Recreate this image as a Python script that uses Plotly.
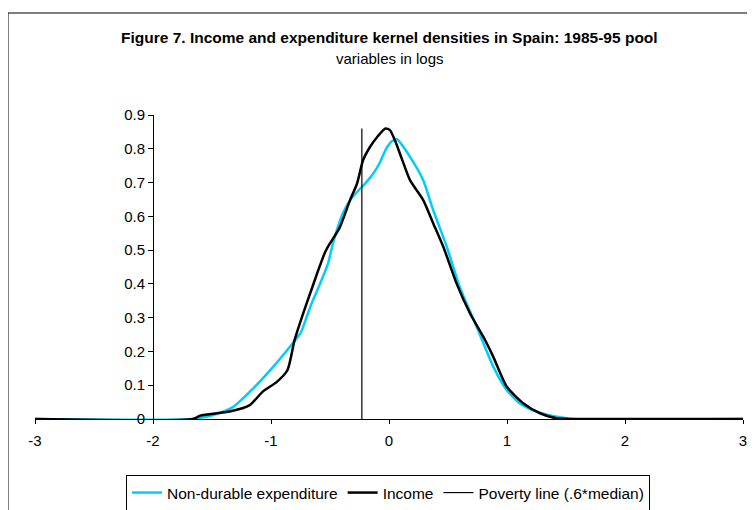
import plotly.graph_objects as go

# Data
income_x = [-3.0, -1.66, -1.60, -1.35, -1.18, -1.07, -0.95, -0.86, -0.80, -0.73, -0.67, -0.60,
            -0.54, -0.50, -0.42, -0.33, -0.27, -0.22, -0.16, -0.10, -0.03, 0.008, 0.05, 0.108,
            0.178, 0.29, 0.375, 0.46, 0.574, 0.686, 0.80, 0.884, 0.997, 1.14, 1.28, 1.42, 1.55, 3.0]
income_y = [0.0, 0.0, 0.01, 0.022, 0.041, 0.081, 0.110, 0.145, 0.234, 0.31, 0.37, 0.44,
            0.495, 0.52, 0.565, 0.648, 0.698, 0.766, 0.806, 0.835, 0.86, 0.855, 0.825, 0.771,
            0.707, 0.648, 0.579, 0.51, 0.40, 0.313, 0.243, 0.184, 0.096, 0.046, 0.017, 0.002, 0.0, 0.0]

exp_x = [-3.0, -1.67, -1.49, -1.32, -1.15, -0.98, -0.84, -0.75, -0.70, -0.655, -0.585, -0.517,
         -0.475, -0.432, -0.39, -0.33, -0.263, -0.195, -0.127, -0.076, -0.025, 0.025, 0.068,
         0.178, 0.29, 0.375, 0.49, 0.60, 0.743, 0.884, 0.997, 1.11, 1.25, 1.45, 1.55, 3.0]
exp_y = [0.0, 0.0, 0.012, 0.036, 0.091, 0.155, 0.214, 0.254, 0.30, 0.343, 0.40, 0.46,
         0.52, 0.57, 0.61, 0.648, 0.675, 0.70, 0.73, 0.76, 0.80, 0.822, 0.828,
         0.776, 0.707, 0.618, 0.51, 0.39, 0.273, 0.155, 0.086, 0.046, 0.022, 0.005, 0.0, 0.0]

poverty_x = [-0.23, -0.23]
poverty_y = [0.0, 0.86]

x_ticks = [-3, -2, -1, 0, 1, 2, 3]
y_ticks = [0, 0.1, 0.2, 0.3, 0.4, 0.5, 0.6, 0.7, 0.8, 0.9]
y_ticklabels = ["0", "0.1", "0.2", "0.3", "0.4", "0.5", "0.6", "0.7", "0.8", "0.9"]

FONT = "Liberation Sans, Arial, sans-serif"

fig = go.Figure()
fig.add_trace(go.Scatter(x=exp_x, y=exp_y, mode="lines", name="Non-durable expenditure",
                         line=dict(color="#00CCFF", width=2.5, shape="spline", smoothing=0.6)))
fig.add_trace(go.Scatter(x=income_x, y=income_y, mode="lines", name="Income",
                         line=dict(color="black", width=2.5, shape="spline", smoothing=0.6)))
fig.add_trace(go.Scatter(x=poverty_x, y=poverty_y, mode="lines", name="Poverty line (.6*median)",
                         line=dict(color="black", width=1.2)))

# The page body adds an 8px offset; page coordinate P maps to figure coordinate P-8.
OFF = 8
W, H = 755 - OFF, 510 - OFF
L, R, T, B = 35 - OFF, W - (743 - OFF), 115 - OFF, H - (419 - OFF)
pw, ph = W - L - R, H - T - B

def px_x(p):
    return (p - OFF - L) / pw

def px_y(p):
    return (H - B - (p - OFF)) / ph

fig.update_layout(
    width=W, height=H,
    margin=dict(l=L, r=R, t=T, b=B, pad=0, autoexpand=False),
    paper_bgcolor="white", plot_bgcolor="white",
    font=dict(family=FONT, size=15, color="black"),
    showlegend=True,
    legend=dict(orientation="h", x=px_x(388), xanchor="center", y=px_y(475), yanchor="top",
                bordercolor="black", borderwidth=1, font=dict(size=15.5, family=FONT),
                bgcolor="white", tracegroupgap=0, itemwidth=30),
    xaxis=dict(range=[-3, 3], tickvals=x_ticks, ticktext=[str(v) for v in x_ticks],
               showgrid=False, zeroline=False, showline=True, linecolor="black", linewidth=1,
               ticks="outside", ticklen=4, tickcolor="black", tickfont=dict(size=15),
               ticklabelstandoff=4, fixedrange=True),
    yaxis=dict(range=[0, 0.9], tickvals=y_ticks, ticktext=y_ticklabels,
               anchor="free", position=px_x(153),
               showgrid=False, zeroline=False, showline=True, linecolor="black", linewidth=1,
               ticks="outside", ticklen=5, tickcolor="black", tickfont=dict(size=15),
               fixedrange=True),
    shapes=[dict(type="rect", xref="paper", yref="paper",
                 x0=px_x(8), x1=px_x(790), y0=px_y(13), y1=px_y(540),
                 line=dict(color="black", width=1), fillcolor="rgba(0,0,0,0)", layer="below")],
    annotations=[
        dict(text="<b>Figure 7. Income and expenditure kernel densities in Spain: 1985-95 pool</b>",
             xref="paper", yref="paper", x=px_x(390), y=px_y(37), xanchor="center", yanchor="middle",
             showarrow=False, font=dict(size=15.5, family=FONT)),
        dict(text="variables in logs", xref="paper", yref="paper", x=px_x(390), y=px_y(58),
             xanchor="center", yanchor="middle", showarrow=False, font=dict(size=15, family=FONT)),
    ],
)

fig.write_html("out.html")
